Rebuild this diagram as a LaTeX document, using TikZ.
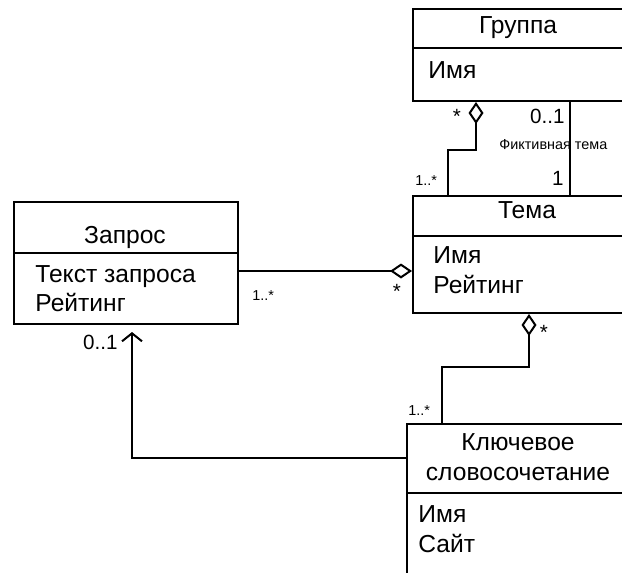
\documentclass[tikz,border=0pt]{standalone}
\usepackage{fontspec}
\setmainfont{Liberation Sans}
\usetikzlibrary{arrows.meta}
\tikzset{
  x=0.5pt, y=-0.5pt,
  box/.style={draw, line width=1pt, anchor=north west, inner sep=0pt},
  divline/.style={line width=1pt},
  title/.style={anchor=base, inner sep=0pt, font=\fontsize{12.3}{14}\selectfont},
  attr/.style={anchor=base west, inner sep=0pt, font=\fontsize{12.3}{14}\selectfont},
  mult/.style={inner sep=0pt, font=\fontsize{10.3}{12}\selectfont},
  smallmult/.style={inner sep=0pt, font=\fontsize{7.2}{9}\selectfont},
  conn/.style={line width=1pt},
  agg/.style={conn, -{Diamond[open, length=11pt, width=7.5pt, line width=1pt]}},
  nav/.style={conn, -{Straight Barb[length=4pt, width=10pt, line width=1pt]}, shorten >=3.5pt},
}
\begin{document}
\begin{tikzpicture}
\useasboundingbox (0,0) rectangle (622,573);
\clip (0,0) rectangle (622,573);
% boxes
\node[box, minimum width=119pt, minimum height=46pt] (grp) at (412,8) {};
\node[box, minimum width=119pt, minimum height=58.5pt] (tema) at (412,195) {};
\node[box, minimum width=112pt, minimum height=61pt] (qry) at (13,201) {};
\node[box, minimum width=122pt, minimum height=88.5pt] (kw) at (406,423) {};
% dividers
\coordinate (dg) at (0,48);
\coordinate (dt) at (0,236);
\coordinate (dq) at (0,253);
\coordinate (dk) at (0,493);
\draw[divline] (grp.west |- dg) -- (grp.east |- dg);
\draw[divline] (tema.west |- dt) -- (tema.east |- dt);
\draw[divline] (qry.west |- dq) -- (qry.east |- dq);
\draw[divline] (kw.west |- dk) -- (kw.east |- dk);
% texts
\node[title] (tg) at (518,33) {Группа};
\node[attr] (tg1) at (428,78) {Имя};
\node[title] (tt) at (527,218) {Тема};
\node[attr] (tt1) at (433,263) {Имя};
\node[attr] (tt2) at (433,293) {Рейтинг};
\node[title] (tq) at (125,243) {Запрос};
\node[attr] (tq1) at (35,282) {Текст запроса};
\node[attr] (tq2) at (35,311) {Рейтинг};
\node[title] (tk1) at (518,450) {Ключевое};
\node[title] (tk2) at (518,480) {словосочетание};
\node[attr] (tk3) at (418,522) {Имя};
\node[attr] (tk4) at (418,552) {Сайт};
% helper coordinates
\coordinate (xA) at (476,0);
\coordinate (xB) at (448,0);
\coordinate (yA) at (0,150);
\coordinate (xC) at (570,0);
\coordinate (yQ) at (0,271);
\coordinate (xD) at (529,0);
\coordinate (xE) at (442,0);
\coordinate (yB) at (0,367);
\coordinate (xF) at (132,0);
\coordinate (yK) at (0,458);
% connectors
\draw[agg] (tema.north -| xB) -- (xB |- yA) -| (grp.south -| xA);
\draw[conn] (grp.south -| xC) -- (tema.north -| xC);
\draw[agg] (qry.east |- yQ) -- (tema.west |- yQ);
\draw[agg] (kw.north -| xE) -- (xE |- yB) -| (tema.south -| xD);
\draw[nav] (kw.west |- yK) -| (qry.south -| xF);
% multiplicities
\node[mult] (m1) at (457,116) {*};
\node[mult, anchor=base east] (m2) at (565,123) {0..1};
\node[smallmult, anchor=base west] (m3) at (499,149) {Фиктивная тема};
\node[mult, anchor=base east] (m4) at (564,185) {1};
\node[smallmult, anchor=base west] (m5) at (415,185) {1..*};
\node[smallmult, anchor=base west] (m6) at (252,300) {1..*};
\node[mult] (m7) at (397,291) {*};
\node[mult] (m8) at (544,332) {*};
\node[smallmult, anchor=base west] (m9) at (408,415) {1..*};
\node[mult, anchor=base east] (m10) at (118,349) {0..1};
\end{tikzpicture}
\end{document}
